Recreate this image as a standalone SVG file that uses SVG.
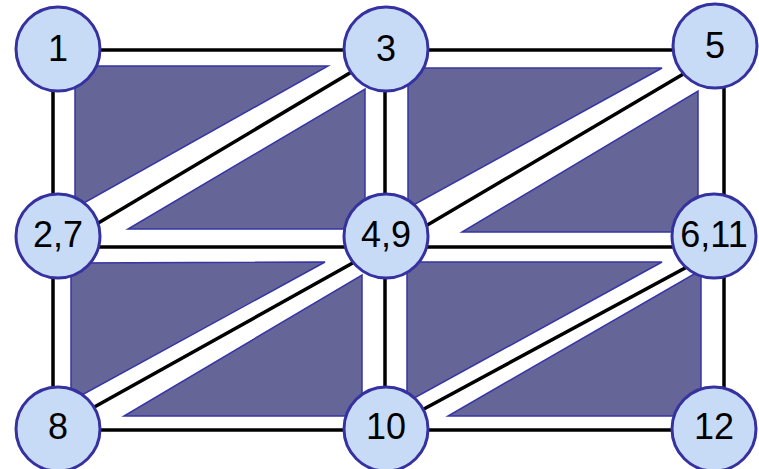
<svg xmlns="http://www.w3.org/2000/svg" width="759" height="469" viewBox="0 0 759 469">
<style>
.tri{fill:#656597;stroke:#3535a5;stroke-width:1.5;stroke-linejoin:miter}
.edge{stroke:#000;stroke-width:3.5;fill:none}
.node circle{fill:#c8dbf6;stroke:#3531a0;stroke-width:3}
.node text{font-family:"Liberation Sans",Arial,sans-serif;font-size:36px;fill:#000;text-anchor:middle}
</style>
<rect width="759" height="469" fill="#fff"/>
<g id="elements">
<polygon class="tri" points="75,66 328,66 75,208"/>
<polygon class="tri" points="128,229 365,229 365,89"/>
<polygon class="tri" points="408,68 662,68 408,208"/>
<polygon class="tri" points="462,232 698,232 698,91"/>
<polygon class="tri" points="71,263 325,262 71,401"/>
<polygon class="tri" points="124,416 362,416 362,275"/>
<polygon class="tri" points="407,262 662,262 407,402"/>
<polygon class="tri" points="448,416 701,416 701,270"/>
</g>
<g id="connectors">
<line class="edge" x1="53" y1="50" x2="724" y2="50"/>
<line class="edge" x1="53" y1="247" x2="724" y2="247"/>
<line class="edge" x1="53" y1="430" x2="724" y2="430"/>
<line class="edge" x1="53" y1="50" x2="53" y2="430"/>
<line class="edge" x1="385" y1="50" x2="385" y2="430"/>
<line class="edge" x1="724" y1="50" x2="724" y2="430"/>
<line class="edge" x1="53" y1="250" x2="385" y2="52"/>
<line class="edge" x1="385" y1="250" x2="724" y2="50"/>
<line class="edge" x1="53" y1="430" x2="385" y2="245"/>
<line class="edge" x1="385" y1="430" x2="724" y2="247"/>
</g>
<g id="n1" class="node"><circle cx="58" cy="49" r="42"/><text x="58" y="61">1</text></g>
<g id="n3" class="node"><circle cx="386" cy="49" r="42"/><text x="386" y="61">3</text></g>
<g id="n5" class="node"><circle cx="715" cy="46" r="42"/><text x="715" y="58">5</text></g>
<g id="n27" class="node"><circle cx="58" cy="236" r="42"/><text x="58" y="247">2,7</text></g>
<g id="n49" class="node"><circle cx="386" cy="236" r="42"/><text x="386" y="247">4,9</text></g>
<g id="n611" class="node"><circle cx="714" cy="236" r="42"/><text x="714" y="247">6,11</text></g>
<g id="n8" class="node"><circle cx="58" cy="429" r="42"/><text x="58" y="439">8</text></g>
<g id="n10" class="node"><circle cx="386" cy="429" r="42"/><text x="386" y="439">10</text></g>
<g id="n12" class="node"><circle cx="714" cy="429" r="42"/><text x="714" y="439">12</text></g>
</svg>
